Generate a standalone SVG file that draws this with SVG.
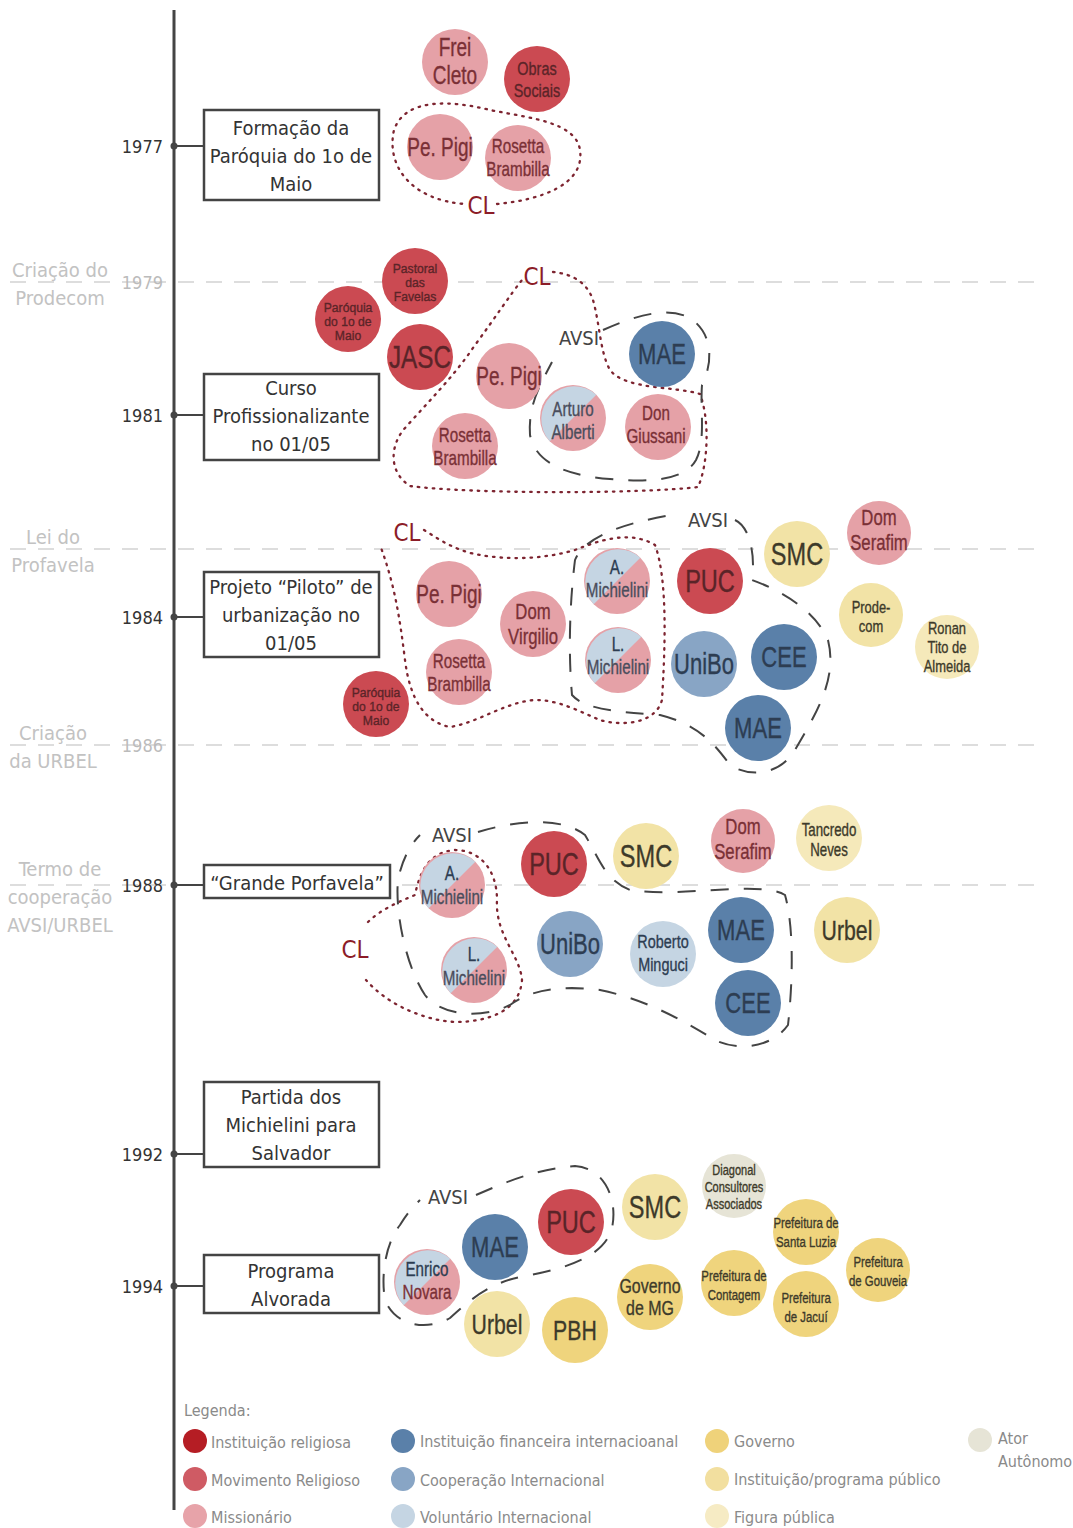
<svg xmlns="http://www.w3.org/2000/svg" width="1073" height="1528" viewBox="0 0 1073 1528">
<style>
text{font-family:"Liberation Sans Narrow","DejaVu Sans Condensed","Liberation Sans",sans-serif;}
.yr{font-size:18px;fill:#333;text-anchor:end;}
.yrg{font-size:18px;fill:#bbb;text-anchor:end;}
.ev{font-size:20px;fill:#c2c2c2;text-anchor:middle;}
.bx{fill:#fff;stroke:#444;stroke-width:2.5;}
.bt{font-size:20px;fill:#333;text-anchor:middle;}
.grid{stroke:#d2d2d2;stroke-width:1.3;stroke-dasharray:16 12;fill:none;}
.cl{fill:none;stroke:#7d2430;stroke-width:2.3;stroke-dasharray:1.5 6;stroke-linecap:round;}
.av{fill:none;stroke:#444;stroke-width:2;stroke-dasharray:18 15;}
.cll{font-size:24px;fill:#8c1c28;text-anchor:middle;}
.avl{font-size:20px;fill:#444;text-anchor:middle;}
.ir{fill:#cb4a52;}
.mi{fill:#e5a1a7;}
.fi{fill:#5a80a9;}
.co{fill:#88a5c5;}
.vo{fill:#c5d5e3;}
.go{fill:#efd47d;}
.pp{fill:#f2e3a6;}
.fp{fill:#f5e9ba;}
.aa{fill:#e6e4d6;}
.tr,.tp,.tb,.tv,.ty{font-family:"Liberation Sans",Arial,sans-serif;text-anchor:middle;stroke-width:0.35;transform-box:fill-box;transform-origin:center;transform:scaleX(0.76);}
.tr.w{transform:scaleX(0.9);}
.tr{fill:#5a2428;stroke:#5a2428;}
.tp{fill:#7a3036;stroke:#7a3036;}
.tb{fill:#2d3d52;stroke:#2d3d52;}
.tv{fill:#4a4d5c;stroke:#4a4d5c;}
.ty{fill:#3d3a2a;stroke:#3d3a2a;}
.lg{font-size:16px;fill:#8a8a8a;}
</style>

<!-- grid lines -->
<g id="grid">
<line class="grid" x1="10" y1="282" x2="1043" y2="282"/>
<line class="grid" x1="10" y1="549" x2="1043" y2="549"/>
<line class="grid" x1="10" y1="745" x2="1043" y2="745"/>
<line class="grid" x1="10" y1="885" x2="1043" y2="885"/>
</g>

<!-- event labels -->
<g id="events">
<text class="ev" x="60" y="277">Criação do</text>
<text class="ev" x="60" y="305">Prodecom</text>
<text class="ev" x="53" y="544">Lei do</text>
<text class="ev" x="53" y="572">Profavela</text>
<text class="ev" x="53" y="740">Criação</text>
<text class="ev" x="53" y="768">da URBEL</text>
<text class="ev" x="60" y="876">Termo de</text>
<text class="ev" x="60" y="904">cooperação</text>
<text class="ev" x="60" y="932">AVSI/URBEL</text>
</g>

<!-- timeline -->
<g id="timeline">
<line x1="174" y1="10" x2="174" y2="1510" stroke="#444" stroke-width="3"/>
<g fill="#444">
<circle cx="174" cy="146" r="3.5"/>
<circle cx="174" cy="415" r="3.5"/>
<circle cx="174" cy="617" r="3.5"/>
<circle cx="174" cy="885" r="3.5"/>
<circle cx="174" cy="1154" r="3.5"/>
<circle cx="174" cy="1286" r="3.5"/>
</g>
<g stroke="#444" stroke-width="2">
<line x1="174" y1="146" x2="204" y2="146"/>
<line x1="174" y1="415" x2="204" y2="415"/>
<line x1="174" y1="617" x2="204" y2="617"/>
<line x1="174" y1="885" x2="204" y2="885"/>
<line x1="174" y1="1154" x2="204" y2="1154"/>
<line x1="174" y1="1286" x2="204" y2="1286"/>
</g>
<text class="yr" x="163" y="153">1977</text>
<text class="yrg" x="163" y="289">1979</text>
<text class="yr" x="163" y="422">1981</text>
<text class="yr" x="163" y="624">1984</text>
<text class="yrg" x="163" y="752">1986</text>
<text class="yr" x="163" y="892">1988</text>
<text class="yr" x="163" y="1161">1992</text>
<text class="yr" x="163" y="1293">1994</text>
</g>

<!-- event boxes -->
<g id="box1977"><rect class="bx" x="204" y="110" width="175" height="90"/>
<text class="bt" x="291" y="135">Formação da</text><text class="bt" x="291" y="163">Paróquia do 1o de</text><text class="bt" x="291" y="191">Maio</text></g>
<g id="box1981"><rect class="bx" x="204" y="374" width="175" height="86"/>
<text class="bt" x="291" y="395">Curso</text><text class="bt" x="291" y="423">Profissionalizante</text><text class="bt" x="291" y="451">no 01/05</text></g>
<g id="box1984"><rect class="bx" x="204" y="572" width="175" height="85"/>
<text class="bt" x="291" y="594">Projeto “Piloto” de</text><text class="bt" x="291" y="622">urbanização no</text><text class="bt" x="291" y="650">01/05</text></g>
<g id="box1988"><rect class="bx" x="204" y="865" width="186" height="33"/>
<text class="bt" x="297" y="890">“Grande Porfavela”</text></g>
<g id="box1992"><rect class="bx" x="204" y="1082" width="175" height="85"/>
<text class="bt" x="291" y="1104">Partida dos</text><text class="bt" x="291" y="1132">Michielini para</text><text class="bt" x="291" y="1160">Salvador</text></g>
<g id="box1994"><rect class="bx" x="204" y="1255" width="175" height="58"/>
<text class="bt" x="291" y="1278">Programa</text><text class="bt" x="291" y="1306">Alvorada</text></g>

<!-- groupings (connectors) -->
<g id="groupings">
<path class="cl" d="M 497 204 C 540 200 585 185 580 150 C 576 122 530 118 490 110 C 450 100 405 98 394 130 C 386 165 410 200 465 204"/>
<text class="cll" x="481" y="214">CL</text>

<path class="cl" d="M 553 272 C 575 274 588 285 593 300 C 600 325 600 352 610 370 C 625 390 675 386 700 394 C 710 420 708 465 698 487 C 640 494 470 494 410 486 C 388 472 390 445 405 428 C 430 400 455 375 475 345 C 495 318 510 295 522 280"/>
<text class="cll" x="537" y="285">CL</text>
<path class="av" d="M 603 330 C 630 318 665 305 690 318 C 715 335 712 365 702 385 C 700 410 706 440 696 460 C 685 480 650 483 610 479 C 560 475 535 460 530 435 C 528 405 540 385 552 362"/>
<text class="avl" x="579" y="345">AVSI</text>

<path class="cl" d="M 424 530 C 440 540 455 550 475 554 C 505 560 540 560 575 550 C 600 540 630 530 655 545 C 668 580 665 650 662 700 C 655 725 620 726 600 720 C 580 712 560 700 535 700 C 505 702 480 722 450 727 C 425 722 410 700 405 660 C 400 620 395 585 380 545"/>
<text class="cll" x="407" y="541">CL</text>
<path class="av" d="M 735 520 C 752 528 755 560 752 580 C 780 590 815 610 828 640 C 838 680 815 715 795 750 C 780 775 750 778 730 765 C 715 745 700 725 660 715 C 620 712 585 710 572 695 C 568 650 570 600 575 560 C 585 535 630 522 672 515"/>
<text class="avl" x="708" y="527">AVSI</text>

<path class="cl" d="M 368 922 C 380 910 398 902 415 895 C 420 870 430 852 455 850 C 480 850 497 870 497 900 C 495 935 520 955 522 980 C 520 1010 490 1022 455 1022 C 420 1020 385 1002 366 980"/>
<text class="cll" x="355" y="958">CL</text>
<path class="av" d="M 478 832 C 510 822 560 815 585 835 C 600 860 605 880 630 890 C 680 898 760 880 785 895 C 795 930 792 990 788 1025 C 770 1050 735 1050 715 1040 C 690 1025 650 1000 600 990 C 560 985 530 990 510 1005 C 480 1020 440 1015 425 995 C 405 965 395 910 398 880 C 402 860 410 845 420 835"/>
<text class="avl" x="452" y="842">AVSI</text>

<path class="av" d="M 476 1195 C 500 1185 530 1170 575 1166 C 605 1168 618 1200 612 1228 C 605 1255 570 1268 525 1276 C 490 1282 470 1300 450 1318 C 425 1332 395 1325 385 1300 C 380 1270 388 1240 400 1225 C 408 1212 415 1205 420 1200"/>
<text class="avl" x="448" y="1204">AVSI</text>
</g>

<!-- 1977 -->
<g id="n77-frei"><circle class="mi" cx="455" cy="62" r="33"/><text class="tp" x="455" y="56" font-size="25">Frei</text><text class="tp" x="455" y="84" font-size="25">Cleto</text></g>
<g id="n77-obras"><circle class="ir" cx="537" cy="79" r="33"/><text class="tr" x="537" y="75" font-size="19">Obras</text><text class="tr" x="537" y="97" font-size="19">Sociais</text></g>
<g id="n77-pigi"><circle class="mi" cx="440" cy="147" r="33"/><text class="tp" x="440" y="156" font-size="25">Pe. Pigi</text></g>
<g id="n77-rosetta"><circle class="mi" cx="518" cy="158" r="33"/><text class="tp" x="518" y="153" font-size="20">Rosetta</text><text class="tp" x="518" y="176" font-size="20">Brambilla</text></g>

<!-- 1981 -->
<g id="n81-pastoral"><circle class="ir" cx="415" cy="281" r="33"/><text class="tr w" x="415" y="273" font-size="13.5">Pastoral</text><text class="tr w" x="415" y="287" font-size="13.5">das</text><text class="tr w" x="415" y="301" font-size="13.5">Favelas</text></g>
<g id="n81-paroquia"><circle class="ir" cx="348" cy="319" r="33"/><text class="tr w" x="348" y="312" font-size="13.5">Paróquia</text><text class="tr w" x="348" y="326" font-size="13.5">do 1o de</text><text class="tr w" x="348" y="340" font-size="13.5">Maio</text></g>
<g id="n81-jasc"><circle class="ir" cx="420" cy="357" r="33"/><text class="tr" x="420" y="368" font-size="32">JASC</text></g>
<g id="n81-pigi"><circle class="mi" cx="509" cy="376" r="33"/><text class="tp" x="509" y="385" font-size="25">Pe. Pigi</text></g>
<g id="n81-arturo"><circle class="mi" cx="573" cy="418" r="33"/><path class="vo" d="M 549.7 441.3 A 33 33 0 0 1 596.3 394.7 Z"/><text class="tv" x="573" y="416" font-size="20">Arturo</text><text class="tv" x="573" y="439" font-size="20">Alberti</text></g>
<g id="n81-giussani"><circle class="mi" cx="658" cy="427" r="33"/><text class="tp" x="656" y="420" font-size="20">Don</text><text class="tp" x="656" y="443" font-size="20">Giussani</text></g>
<g id="n81-rosetta"><circle class="mi" cx="465" cy="446" r="33"/><text class="tp" x="465" y="442" font-size="20">Rosetta</text><text class="tp" x="465" y="465" font-size="20">Brambilla</text></g>
<g id="n81-mae"><circle class="fi" cx="662" cy="354" r="33"/><text class="tb" x="662" y="364" font-size="29">MAE</text></g>

<!-- 1984 -->
<g id="n84-pigi"><circle class="mi" cx="449" cy="594" r="33"/><text class="tp" x="449" y="603" font-size="25">Pe. Pigi</text></g>
<g id="n84-virgilio"><circle class="mi" cx="533" cy="624" r="33"/><text class="tp" x="533" y="619" font-size="22">Dom</text><text class="tp" x="533" y="644" font-size="22">Virgilio</text></g>
<g id="n84-rosetta"><circle class="mi" cx="459" cy="672" r="33"/><text class="tp" x="459" y="668" font-size="20">Rosetta</text><text class="tp" x="459" y="691" font-size="20">Brambilla</text></g>
<g id="n84-amich"><circle class="mi" cx="617" cy="581" r="33"/><path class="vo" d="M 593.7 604.3 A 33 33 0 0 1 640.3 557.7 Z"/><text class="tb" x="617" y="574" font-size="20">A.</text><text class="tv" x="617" y="597" font-size="20">Michielini</text></g>
<g id="n84-lmich"><circle class="mi" cx="618" cy="660" r="33"/><path class="vo" d="M 594.7 683.3 A 33 33 0 0 1 641.3 636.7 Z"/><text class="tb" x="618" y="651" font-size="20">L.</text><text class="tv" x="618" y="674" font-size="20">Michielini</text></g>
<g id="n84-paroquia"><circle class="ir" cx="376" cy="704" r="33"/><text class="tr w" x="376" y="697" font-size="13.5">Paróquia</text><text class="tr w" x="376" y="711" font-size="13.5">do 1o de</text><text class="tr w" x="376" y="725" font-size="13.5">Maio</text></g>
<g id="n84-puc"><circle class="ir" cx="710" cy="581" r="33"/><text class="tr" x="710" y="592" font-size="31">PUC</text></g>
<g id="n84-unibo"><circle class="co" cx="704" cy="664" r="33"/><text class="tb" x="704" y="674" font-size="29">UniBo</text></g>
<g id="n84-cee"><circle class="fi" cx="784" cy="657" r="33"/><text class="tb" x="784" y="667" font-size="29">CEE</text></g>
<g id="n84-mae"><circle class="fi" cx="758" cy="728" r="33"/><text class="tb" x="758" y="738" font-size="29">MAE</text></g>
<g id="n84-smc"><circle class="pp" cx="797" cy="554" r="33"/><text class="ty" x="797" y="565" font-size="31">SMC</text></g>
<g id="n84-serafim"><circle class="mi" cx="879" cy="533" r="32"/><text class="tp" x="879" y="525" font-size="22">Dom</text><text class="tp" x="879" y="550" font-size="22">Serafim</text></g>
<g id="n84-prodecom"><circle class="pp" cx="871" cy="615" r="32"/><text class="ty" x="871" y="613" font-size="17">Prode-</text><text class="ty" x="871" y="632" font-size="17">com</text></g>
<g id="n84-ronan"><circle class="fp" cx="947" cy="647" r="32"/><text class="ty" x="947" y="634" font-size="17">Ronan</text><text class="ty" x="947" y="653" font-size="17">Tito de</text><text class="ty" x="947" y="672" font-size="17">Almeida</text></g>

<!-- 1988 -->
<g id="n88-amich"><circle class="mi" cx="452" cy="885" r="33"/><path class="vo" d="M 428.7 908.3 A 33 33 0 0 1 475.3 861.7 Z"/><text class="tb" x="452" y="880" font-size="20">A.</text><text class="tv" x="452" y="904" font-size="20">Michielini</text></g>
<g id="n88-lmich"><circle class="mi" cx="474" cy="970" r="33"/><path class="vo" d="M 450.7 993.3 A 33 33 0 0 1 497.3 946.7 Z"/><text class="tb" x="474" y="961" font-size="20">L.</text><text class="tv" x="474" y="985" font-size="20">Michielini</text></g>
<g id="n88-puc"><circle class="ir" cx="554" cy="864" r="33"/><text class="tr" x="554" y="875" font-size="31">PUC</text></g>
<g id="n88-smc"><circle class="pp" cx="646" cy="856" r="33"/><text class="ty" x="646" y="867" font-size="31">SMC</text></g>
<g id="n88-serafim"><circle class="mi" cx="743" cy="841" r="32"/><text class="tp" x="743" y="834" font-size="22">Dom</text><text class="tp" x="743" y="859" font-size="22">Serafim</text></g>
<g id="n88-tancredo"><circle class="fp" cx="829" cy="838" r="33"/><text class="ty" x="829" y="836" font-size="17.5">Tancredo</text><text class="ty" x="829" y="856" font-size="17.5">Neves</text></g>
<g id="n88-unibo"><circle class="co" cx="570" cy="944" r="33"/><text class="tb" x="570" y="954" font-size="29">UniBo</text></g>
<g id="n88-roberto"><circle class="vo" cx="663" cy="954" r="33"/><text class="tb" x="663" y="948" font-size="19">Roberto</text><text class="tb" x="663" y="971" font-size="19">Minguci</text></g>
<g id="n88-mae"><circle class="fi" cx="741" cy="930" r="33"/><text class="tb" x="741" y="940" font-size="29">MAE</text></g>
<g id="n88-cee"><circle class="fi" cx="748" cy="1003" r="33"/><text class="tb" x="748" y="1013" font-size="29">CEE</text></g>
<g id="n88-urbel"><circle class="pp" cx="847" cy="930" r="33"/><text class="ty" x="847" y="940" font-size="28">Urbel</text></g>

<!-- 1994 -->
<g id="n94-enrico"><circle class="mi" cx="427" cy="1282" r="33"/><path class="vo" d="M 403.7 1305.3 A 33 33 0 0 1 450.3 1258.7 Z"/><text class="tb" x="427" y="1276" font-size="20">Enrico</text><text class="tp" x="427" y="1299" font-size="20">Novara</text></g>
<g id="n94-mae"><circle class="fi" cx="495" cy="1247" r="33"/><text class="tb" x="495" y="1257" font-size="29">MAE</text></g>
<g id="n94-puc"><circle class="ir" cx="571" cy="1222" r="33"/><text class="tr" x="571" y="1233" font-size="31">PUC</text></g>
<g id="n94-smc"><circle class="pp" cx="655" cy="1207" r="33"/><text class="ty" x="655" y="1218" font-size="31">SMC</text></g>
<g id="n94-urbel"><circle class="pp" cx="497" cy="1324" r="33"/><text class="ty" x="497" y="1334" font-size="28">Urbel</text></g>
<g id="n94-pbh"><circle class="go" cx="575" cy="1330" r="33"/><text class="ty" x="575" y="1340" font-size="28">PBH</text></g>
<g id="n94-gmg"><circle class="go" cx="650" cy="1297" r="33"/><text class="ty" x="650" y="1293" font-size="21">Governo</text><text class="ty" x="650" y="1315" font-size="21">de MG</text></g>
<g id="n94-diagonal"><circle class="aa" cx="734" cy="1186" r="32"/><text class="ty" x="734" y="1175" font-size="14.5">Diagonal</text><text class="ty" x="734" y="1192" font-size="14.5">Consultores</text><text class="ty" x="734" y="1209" font-size="14.5">Associados</text></g>
<g id="n94-santaluzia"><circle class="go" cx="806" cy="1232" r="33"/><text class="ty" x="806" y="1228" font-size="15">Prefeitura de</text><text class="ty" x="806" y="1247" font-size="15">Santa Luzia</text></g>
<g id="n94-contagem"><circle class="go" cx="734" cy="1283" r="33"/><text class="ty" x="734" y="1281" font-size="15">Prefeitura de</text><text class="ty" x="734" y="1300" font-size="15">Contagem</text></g>
<g id="n94-jacui"><circle class="go" cx="806" cy="1304" r="33"/><text class="ty" x="806" y="1303" font-size="15">Prefeitura</text><text class="ty" x="806" y="1322" font-size="15">de Jacuí</text></g>
<g id="n94-gouveia"><circle class="go" cx="878" cy="1270" r="32"/><text class="ty" x="878" y="1267" font-size="15">Prefeitura</text><text class="ty" x="878" y="1286" font-size="15">de Gouveia</text></g>

<!-- legend -->
<g id="legend">
<text class="lg" x="184" y="1416">Legenda:</text>
<circle cx="195" cy="1441" r="12" fill="#b51d24"/><text class="lg" x="211" y="1448">Instituição religiosa</text>
<circle cx="195" cy="1479" r="12" fill="#cf5b64"/><text class="lg" x="211" y="1486">Movimento Religioso</text>
<circle cx="195" cy="1516" r="12" fill="#e7a3a9"/><text class="lg" x="211" y="1523">Missionário</text>
<circle cx="403" cy="1441" r="12" fill="#5a80a9"/><text class="lg" x="420" y="1447">Instituição financeira internacioanal</text>
<circle cx="403" cy="1479" r="12" fill="#88a5c5"/><text class="lg" x="420" y="1486">Cooperação Internacional</text>
<circle cx="403" cy="1516" r="12" fill="#c5d5e3"/><text class="lg" x="420" y="1523">Voluntário Internacional</text>
<circle cx="717" cy="1441" r="12" fill="#efd27a"/><text class="lg" x="734" y="1447">Governo</text>
<circle cx="717" cy="1479" r="12" fill="#f2df9f"/><text class="lg" x="734" y="1485">Instituição/programa público</text>
<circle cx="717" cy="1516" r="12" fill="#f6ebc4"/><text class="lg" x="734" y="1523">Figura pública</text>
<circle cx="980" cy="1440" r="12" fill="#e6e4d6"/><text class="lg" x="998" y="1444">Ator</text><text class="lg" x="998" y="1467">Autônomo</text>
</g>
</svg>
